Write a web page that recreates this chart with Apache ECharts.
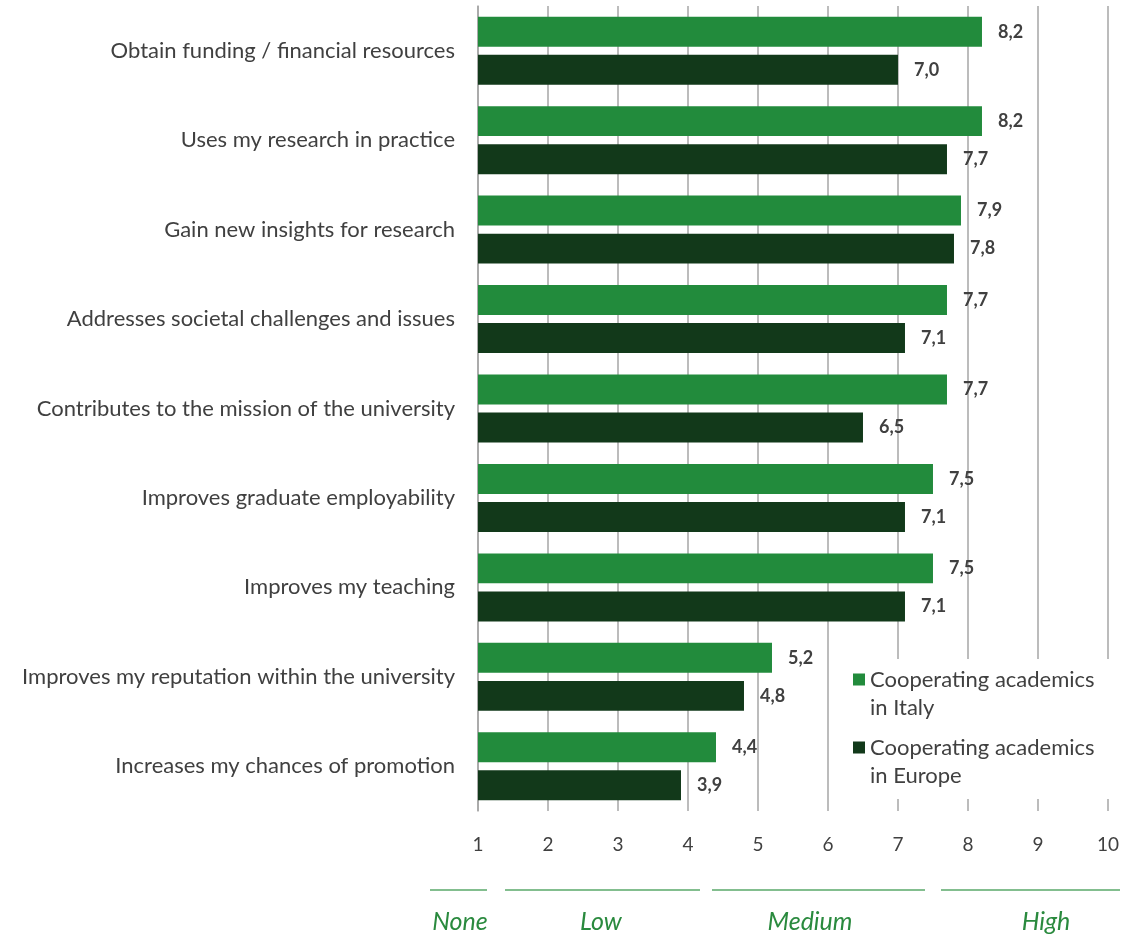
<!DOCTYPE html>
<html><head><meta charset="utf-8">
<script src="https://cdn.jsdelivr.net/npm/echarts@6/dist/echarts.min.js"></script>
<style>html,body{margin:0;padding:0;background:#fff}#c{width:1122px;height:936px}</style>
</head><body><div id="c"></div>
<script>
const categories = [
  "Obtain funding / financial resources",
  "Uses my research in practice",
  "Gain new insights for research",
  "Addresses societal challenges and issues",
  "Contributes to the mission of the university",
  "Improves graduate employability",
  "Improves my teaching",
  "Improves my reputation within the university",
  "Increases my chances of promotion"
];
const italy = [8.2, 8.2, 7.9, 7.7, 7.7, 7.5, 7.5, 5.2, 4.4];
const europe = [7.0, 7.7, 7.8, 7.1, 6.5, 7.1, 7.1, 4.8, 3.9];
const seriesNames = ["Cooperating academics\nin Italy", "Cooperating academics\nin Europe"];
const bands = ["None", "Low", "Medium", "High"];

const font = "Lato, 'Noto Sans', sans-serif";
const chart = echarts.init(document.getElementById('c'));
const lbl = {
  show: true, position: 'right', distance: 16,
  color: '#404040', fontWeight: 'bold', fontSize: 18, fontFamily: font,
  formatter: p => p.value.toFixed(1).replace('.', ',')
};
const bandLine = [[430, 487], [505, 700], [712, 925], [941, 1120]];
const bandText = [460, 601, 810, 1046];
const graphics = [];
bands.forEach((b, i) => {
  const [x1, x2] = bandLine[i];
  graphics.push({type: 'line', shape: {x1, y1: 890, x2, y2: 890}, style: {stroke: '#5aa96a', lineWidth: 1.5}});
  graphics.push({type: 'text', x: bandText[i], y: 922, style: {text: b, fill: '#2a8a3e', font: 'italic 25px ' + font, textAlign: 'center', textVerticalAlign: 'middle'}});
});
// square at the top of a taller box so it aligns with the first text line
const legendIcon = 'path://M0,0L12,0L12,12L0,12Z M0,40L0,41';
chart.setOption({
  animation: false,
  grid: {left: 478, right: 13, top: 6, bottom: 125, containLabel: false},
  legend: {
    orient: 'vertical', left: 845, top: 659, itemWidth: 12, itemHeight: 41, itemGap: 12,
    padding: [7, 40, 9, 8], backgroundColor: '#ffffff',
    icon: legendIcon, itemStyle: {borderWidth: 0},
    textStyle: {color: '#404040', fontSize: 22, fontFamily: font, lineHeight: 28},
    data: seriesNames
  },
  xAxis: {
    type: 'value', min: 1, max: 10, interval: 1,
    axisLine: {show: false}, axisTick: {show: false},
    axisLabel: {color: '#404040', fontSize: 19, fontFamily: font, margin: 24},
    splitLine: {show: true, lineStyle: {color: '#a6a6a6', width: 1.5}}
  },
  yAxis: {
    type: 'category', data: categories, inverse: true,
    axisLine: {show: true, lineStyle: {color: '#a6a6a6', width: 1.5}}, axisTick: {show: false},
    axisLabel: {color: '#404040', fontSize: 22, fontFamily: font, margin: 23}
  },
  series: [
    {name: seriesNames[0], type: 'bar', data: italy, itemStyle: {color: '#228b3c'}, barGap: '27%', barCategoryGap: '24%', label: lbl},
    {name: seriesNames[1], type: 'bar', data: europe, itemStyle: {color: '#12391a'}, label: lbl}
  ],
  graphic: graphics
});
</script></body></html>
